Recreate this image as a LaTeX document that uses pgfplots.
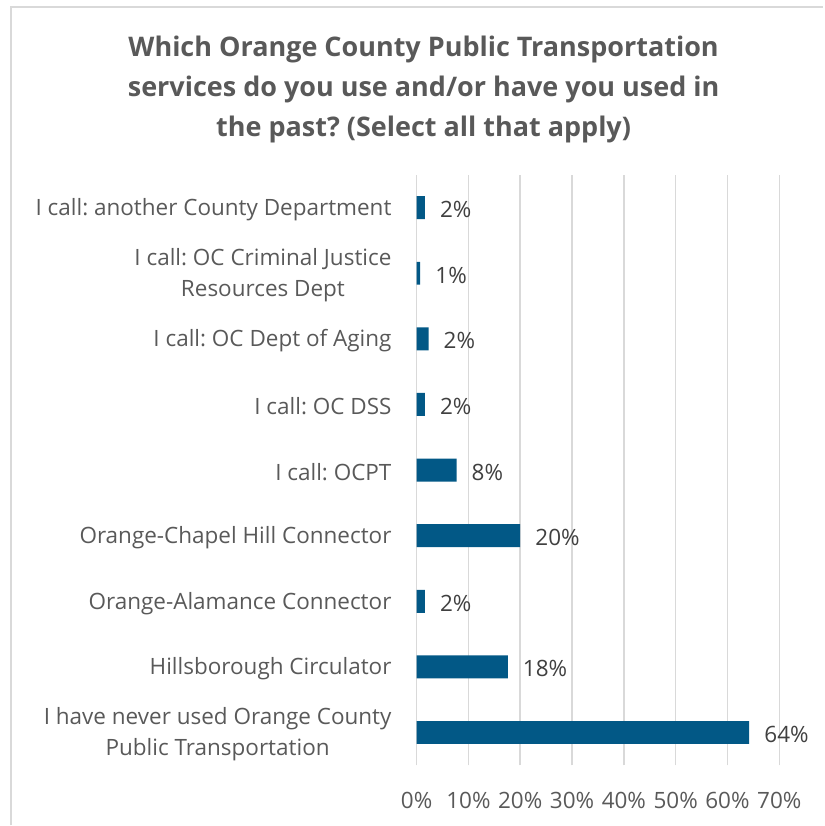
\documentclass[border=0pt]{standalone}
\usepackage{fontspec}
\setmainfont{Open Sans}
\usepackage{pgfplots}
\pgfplotsset{compat=1.18}
\frenchspacing
\definecolor{barblue}{RGB}{2,88,134}
\definecolor{txtgray}{RGB}{89,89,89}
\definecolor{lblgray}{RGB}{64,64,64}
\definecolor{gridgray}{RGB}{217,217,217}
\begin{document}
\begin{tikzpicture}
\begin{axis}[
    scale only axis,
    width=363pt, height=591pt,
    xbar,
    bar width=23pt,
    xmin=0, xmax=70,
    ymin=-0.5, ymax=8.5,
    xtick={0,10,...,70},
    xticklabels={0\%,10\%,20\%,30\%,40\%,50\%,60\%,70\%},
    ytick={0,...,8},
    yticklabels={I have never used Orange County\\Public Transportation,
      Hillsborough Circulator,
      Orange-Alamance Connector,
      Orange-Chapel Hill Connector,
      I call: OCPT,
      I call: OC DSS,
      I call: OC Dept of Aging,
      I call: OC Criminal Justice\\Resources Dept,
      I call: another County Department},
    yticklabel style={align=center, text=txtgray, font=\fontsize{22.5}{31}\selectfont, inner sep=0pt, xshift=-25pt, yshift=-2pt},
    xticklabel style={text=txtgray, font=\fontsize{22.5}{26}\selectfont, inner sep=0pt, yshift=-27pt},
    major tick length=0pt,
    axis line style={draw=none},
    xmajorgrids,
    major grid style={draw=gridgray, line width=1.5pt},
    clip=false,
    /pgf/number format/assume math mode=true,
    nodes near coords={\pgfmathprintnumber[fixed,precision=0]{\pgfplotspointmeta}\%},
    every node near coord/.append style={text=lblgray, font=\fontsize{22.5}{26}\selectfont, anchor=west, inner sep=0pt, xshift=15pt, yshift=-2pt},
]
\addplot[fill=barblue, draw=none] coordinates {
  (64.2,0) (17.6,1) (1.6,2) (20.0,3) (7.7,4) (1.6,5) (2.3,6) (0.7,7) (1.6,8)
};
\end{axis}
% picture extent relative to the axis box
\begin{scope}[x=1pt,y=1pt]
\path (-417,-60) rectangle (407,766);
\draw[gridgray, line width=1.5pt] (-406,-60) -- (-406,759) -- (407,759);
\node[align=center, text=txtgray, font=\bfseries\fontsize{27}{40}\selectfont] at (7,676)
  {Which Orange County Public Transportation\\services do you use and/or have you used in\\the past? (Select all that apply)};
\end{scope}
\end{tikzpicture}
\end{document}
